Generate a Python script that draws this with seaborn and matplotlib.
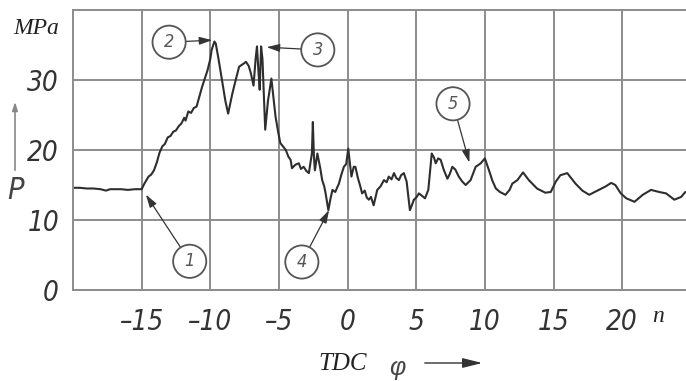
import matplotlib
matplotlib.use("Agg")
import matplotlib.pyplot as plt
from matplotlib import font_manager
from matplotlib.font_manager import FontProperties
import seaborn as sns
import numpy as np

# ---- data (crank angle phi, pressure P in MPa) ----
phi = [-20.0, -19.5, -19.0, -18.5, -18.0, -17.6, -17.3, -17.0, -16.5, -16.0, -15.5, -15.0,
       -14.8, -14.5, -14.3, -14.1, -13.9, -13.7, -13.5, -13.3, -13.1, -12.9, -12.7, -12.5,
       -12.3, -12.1, -11.9, -11.8, -11.6, -11.4, -11.2, -11.0, -10.8, -10.6, -10.4, -10.2,
       -10.0, -9.9, -9.7, -9.6, -9.4, -9.15, -8.9, -8.7, -8.4, -8.15, -7.9, -7.6, -7.4,
       -7.2, -7.05, -6.85, -6.7, -6.6, -6.5, -6.4, -6.3, -6.2, -6.0, -5.8, -5.55, -5.4,
       -5.25, -5.05, -4.9, -4.7, -4.5, -4.3, -4.15, -4.05, -3.8, -3.55, -3.4, -3.2, -3.0,
       -2.82, -2.6, -2.53, -2.45, -2.38, -2.2, -2.0, -1.85, -1.7, -1.6, -1.4, -1.25, -1.1,
       -0.9, -0.63, -0.45, -0.27, -0.1, 0.05, 0.15, 0.28, 0.45, 0.57, 0.75, 0.9, 1.06,
       1.25, 1.4, 1.55, 1.7, 1.9, 2.05, 2.16, 2.4, 2.65, 2.85, 3.0, 3.2, 3.38, 3.55, 3.74,
       3.9, 4.1, 4.3, 4.54, 4.7, 4.83, 5.0, 5.2, 5.45, 5.64, 5.88, 6.13, 6.3, 6.42, 6.6,
       6.78, 7.0, 7.27, 7.45, 7.63, 7.85, 8.1, 8.35, 8.6, 8.96, 9.33, 9.7, 10.0, 10.3,
       10.55, 10.8, 11.1, 11.5, 11.8, 12.0, 12.37, 12.78, 13.2, 13.8, 14.4, 14.8, 15.17,
       15.5, 16.0, 16.6, 17.1, 17.6, 18.3, 18.8, 19.2, 19.5, 19.9, 20.3, 20.9, 21.5, 22.1,
       22.7, 23.2, 23.8, 24.3, 24.6]
pressure = [14.6, 14.6, 14.5, 14.5, 14.4, 14.2, 14.4, 14.4, 14.4, 14.3, 14.4, 14.4,
            15.2, 16.2, 16.5, 17.1, 18.2, 19.6, 20.5, 20.9, 21.8, 22.0, 22.6, 22.8,
            23.4, 23.8, 24.6, 24.2, 25.5, 25.3, 26.0, 26.2, 27.6, 29.0, 30.2, 31.4,
            33.0, 34.3, 35.5, 35.2, 33.0, 30.0, 27.0, 25.2, 28.0, 30.0, 31.9, 32.3, 32.6,
            32.0, 31.0, 29.2, 33.0, 34.8, 31.5, 28.6, 34.8, 33.0, 22.9, 27.0, 30.2, 27.5,
            24.8, 22.5, 21.0, 20.5, 20.0, 19.0, 18.6, 17.4, 17.9, 18.1, 17.3, 17.6, 17.0,
            16.7, 19.5, 24.0, 19.0, 17.1, 19.5, 17.5, 15.7, 14.8, 13.8, 11.4, 13.0, 14.3,
            14.0, 15.2, 16.5, 17.6, 18.0, 20.2, 18.5, 16.2, 17.6, 17.6, 16.0, 15.0, 13.8,
            14.2, 13.2, 12.9, 13.3, 12.1, 13.4, 14.3, 14.8, 15.7, 15.4, 16.2, 15.8, 16.7, 16.0, 15.7,
            16.4, 16.7, 15.5, 11.4, 12.2, 12.9, 13.2, 13.8, 13.4, 13.1, 14.3, 19.5, 18.9, 18.1, 18.8,
            18.6, 17.2, 15.9, 16.6, 17.6, 17.2, 16.2, 15.5, 15.0, 15.7, 17.6, 18.1, 18.8, 17.1,
            15.6, 14.5, 14.0, 13.6, 14.3, 15.2, 15.7, 16.8, 15.7, 14.5, 13.9, 14.0, 15.5,
            16.4, 16.7, 15.2, 14.2, 13.6, 14.3, 14.8, 15.3, 15.0, 13.8, 13.1, 12.6, 13.6, 14.3,
            14.0, 13.8, 12.9, 13.3, 14.0]

x_ticks = [-15, -10, -5, 0, 5, 10, 15, 20]
y_ticks = [0, 10, 20, 30]

# annotations: label, target point, circle centre
ann_labels = ["1", "2", "3", "4", "5"]
ann_targets = [(-14.75, 13.8), (-9.75, 35.7), (-6.0, 34.7), (-1.3, 11.6), (8.9, 18.0)]
ann_centres = [(-11.5, 4.1), (-13.0, 35.4), (-2.17, 34.3), (-3.33, 4.0), (7.68, 26.6)]

sns.set_theme(style="white")
plt.rcParams["font.family"] = ["Liberation Sans", "DejaVu Sans"]
serif = ["Liberation Serif", "DejaVu Serif"]


def find_narrow():
    best = None
    score_best = -1
    for f in font_manager.fontManager.ttflist:
        name = f.name.lower()
        st = str(f.stretch).lower()
        narrowish = ("narrow" in name or "condensed" in name or "cond" in name
                     or "condensed" in st)
        if not narrowish:
            continue
        if "serif" in name and "sans" not in name:
            continue
        if "mono" in name or "cjk" in name:
            continue
        sc = 1
        if str(f.style).lower() in ("italic", "oblique"):
            sc += 2
        if str(f.weight) in ("400", "normal", "regular", "book") or f.weight == 400:
            sc += 1
        if sc > score_best:
            score_best, best = sc, f
    return best


def narrow_fp(size):
    nf = find_narrow()
    if nf is not None:
        if str(nf.style).lower() == "normal":
            return FontProperties(family=nf.name, stretch=nf.stretch, style="italic", size=size)
        return FontProperties(fname=nf.fname, size=size)
    return FontProperties(family=["Liberation Sans", "DejaVu Sans"], style="italic", size=size)


tick_fp = narrow_fp(20)
p_fp = narrow_fp(22)
circ_fp = narrow_fp(13)

W, H = 686, 381
fig = plt.figure(figsize=(W / 100, H / 100), dpi=100)
ax = fig.add_axes([73 / W, 1 - 290 / H, 1 - 73 / W, (290 - 10) / H])

grid_c = "#8c8c8c"
sns.lineplot(x=phi, y=pressure, ax=ax, color="#2e2e2e", lw=1.5, sort=False)

ax.set_xlim(-20.0, 24.65)
ax.set_ylim(0, 40)
ax.set_xticks(x_ticks)
ax.set_yticks(y_ticks)
ax.set_xticklabels([str(v).replace("-", "\u2013") for v in x_ticks])
ax.set_yticklabels([str(v) for v in y_ticks])
ax.grid(True, color=grid_c, lw=1.4)
ax.set_axisbelow(True)
for s in ["left", "top", "bottom"]:
    ax.spines[s].set_color(grid_c)
    ax.spines[s].set_linewidth(1.4)
ax.spines["right"].set_visible(False)
ax.tick_params(axis="both", length=0, colors="#333333")
ax.tick_params(axis="x", pad=13)
ax.tick_params(axis="y", pad=10)
for lab in ax.get_xticklabels() + ax.get_yticklabels():
    lab.set_fontproperties(tick_fp)
ax.set_xlabel("")
ax.set_ylabel("")

for lab, tgt, cen in zip(ann_labels, ann_targets, ann_centres):
    ax.annotate(lab, xy=tgt, xytext=cen, textcoords="data",
                ha="center", va="center", fontproperties=circ_fp, color="#555555",
                bbox=dict(boxstyle="circle,pad=0.42", fc="white", ec="#555555", lw=1.3),
                arrowprops=dict(arrowstyle="-|>,head_length=0.6,head_width=0.18",
                                color="#333333", lw=0.9, shrinkA=0, shrinkB=1),
                zorder=5)


def fx(px):
    return px / W


def fy(py):
    return 1 - py / H


fig.text(fx(36), fy(29), "MPa", ha="center", va="center", fontsize=17,
         family=serif, fontstyle="italic", color="#222222")
fig.text(fx(15), fy(190), "P", ha="center", va="center", fontproperties=p_fp,
         color="#444444")
fig.add_artist(matplotlib.patches.FancyArrowPatch(
    (fx(15), fy(173)), (fx(15), fy(99)), transform=fig.transFigure,
    arrowstyle="-|>,head_length=5,head_width=1.6", color="#888888", lw=1.2,
    mutation_scale=1))
fig.text(fx(343), fy(364), "TDC", ha="center", va="center", fontsize=18,
         family=serif, fontstyle="italic", color="#222222")
fig.text(fx(397), fy(368), "\u03c6", ha="center", va="center", fontsize=18,
         fontstyle="italic", color="#444444")
fig.add_artist(matplotlib.patches.FancyArrowPatch(
    (fx(422), fy(363)), (fx(485), fy(363)), transform=fig.transFigure,
    arrowstyle="-|>,head_length=12,head_width=3", color="#333333", lw=1.0,
    mutation_scale=1))
fig.text(fx(658), fy(316), "n", ha="center", va="center", fontsize=17,
         family=serif, fontstyle="italic", color="#222222")

fig.savefig("out.png", dpi=100)
